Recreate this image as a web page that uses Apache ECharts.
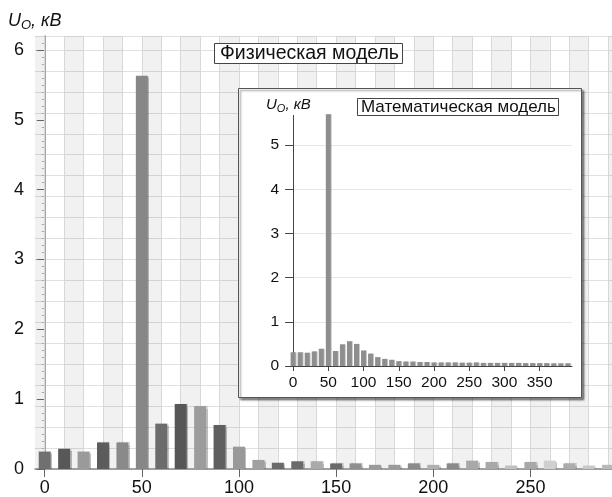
<!DOCTYPE html>
<html><head><meta charset="utf-8">
<script src="https://cdn.jsdelivr.net/npm/echarts@6/dist/echarts.min.js"></script>
<style>html,body{margin:0;padding:0;background:#fff}#c{width:612px;height:497px}</style>
</head><body><div id="c"></div>
<script>
// ---- data ----
const mainFreq = [0,10,20,30,40,50,60,70,80,90,100,110,120,130,140,150,160,170,180,190,200,210,220,230,240,250,260,270,280,290];
const mainValues = [0.25,0.29,0.25,0.38,0.38,5.63,0.65,0.93,0.90,0.63,0.32,0.13,0.09,0.11,0.11,0.08,0.08,0.06,0.06,0.08,0.06,0.08,0.12,0.10,0.05,0.10,0.12,0.08,0.05,0.06];
const insetFreq = [0,10,20,30,40,50,60,70,80,90,100,110,120,130,140,150,160,170,180,190,200,210,220,230,240,250,260,270,280,290,300,310,320,330,340,350,360,370,380,390];
const insetValues = [0.31,0.31,0.30,0.33,0.39,5.70,0.34,0.49,0.56,0.50,0.35,0.28,0.20,0.16,0.14,0.11,0.10,0.10,0.09,0.09,0.08,0.08,0.08,0.08,0.075,0.075,0.08,0.07,0.07,0.07,0.07,0.07,0.07,0.065,0.065,0.065,0.065,0.06,0.06,0.06];
const mainXTicks = [0,50,100,150,200,250];
const mainYTicks = [0,1,2,3,4,5,6];
const insetXTicks = [0,50,100,150,200,250,300,350];
const insetYTicks = [0,1,2,3,4,5];
const mainTitle = 'Физическая модель';
const insetTitle = 'Математическая модель';

// ---- styles ----
const mainColors = ['#707070','#585858','#9a9a9a','#5c5c5c','#8a8a8a','#878787','#6c6c6c','#575757','#9c9c9c','#5f5f5f','#999999','#a0a0a0','#6a6a6a','#6a6a6a','#aaaaaa','#6a6a6a','#8f8f8f','#9a9a9a','#9a9a9a','#8a8a8a','#b0b0b0','#8a8a8a','#a8a8a8','#a8a8a8','#c0c0c0','#a8a8a8','#d0d0d0','#acacac','#c8c8c8','#b8b8b8'];
const FONT = '"Liberation Sans", Arial, sans-serif';
const X_MIN = -5, X_MAX = 292, Y_MAX = 6.2;
const bandStep = 10;

const bands = [];
bands.push([{xAxis: X_MIN}, {xAxis: 0}]);
for (let s = 10; s < X_MAX; s += 2 * bandStep) bands.push([{xAxis: s}, {xAxis: Math.min(s + bandStep, X_MAX)}]);
const vlines = [];
for (let s = 0; s < X_MAX; s += bandStep) vlines.push({xAxis: s});

const axisTitleRich = (big, small) => ({
  i: {fontSize: big, fontStyle: 'italic', fontWeight: 'normal', fontFamily: FONT, color: '#111'},
  s: {fontSize: small, fontStyle: 'italic', fontWeight: 'normal', fontFamily: FONT, color: '#111', padding: [Math.round(big*0.55), 0, 0, 0]}
});

const chart = echarts.init(document.getElementById('c'));
chart.setOption({
  animation: false,
  backgroundColor: '#fff',
  textStyle: {fontFamily: FONT},
  grid: [
    {left: 35, right: 0, top: 36, bottom: 28},
    {left: 291, right: 40, top: 101, bottom: 131}
  ],
  title: [
    {text: '{i|U}{s|O}{i|, кВ}', left: 6, top: 7, padding: 2, textStyle: {fontWeight: 'normal', rich: axisTitleRich(18, 13)}},
    {text: mainTitle, left: 214, top: 43, padding: [1, 4, 0, 6], backgroundColor: '#fff', borderColor: '#444', borderWidth: 1,
     textStyle: {fontSize: 19.5, fontWeight: 'normal', color: '#111', fontFamily: FONT}, z: 20},
    {text: '{i|U}{s|O}{i|, кВ}', left: 265, top: 94, padding: [1, 3, 1, 1], backgroundColor: '#fff', textStyle: {fontWeight: 'normal', rich: axisTitleRich(15, 11)}, z: 30},
    {text: insetTitle, left: 357, top: 98, padding: [1, 3, 0, 4], backgroundColor: '#fff', borderColor: '#444', borderWidth: 1,
     textStyle: {fontSize: 17, fontWeight: 'normal', color: '#111', fontFamily: FONT}, z: 30}
  ],
  graphic: [{
    type: 'rect', z: 8, silent: true,
    shape: {x: 238.5, y: 88.5, width: 343, height: 309},
    style: {fill: '#fff', stroke: '#555', lineWidth: 1, shadowColor: 'rgba(0,0,0,0.45)', shadowOffsetX: 2, shadowOffsetY: 2, shadowBlur: 2}
  }],
  xAxis: [
    {type: 'value', gridIndex: 0, min: X_MIN, max: X_MAX,
     axisLine: {show: true, lineStyle: {color: '#888', width: 1.5}},
     axisTick: {show: true, customValues: mainXTicks, length: 8, lineStyle: {color: '#666'}},
     axisLabel: {customValues: mainXTicks, fontSize: 18, color: '#111', margin: 10, fontFamily: FONT},
     splitLine: {show: false}},
    {type: 'value', gridIndex: 1, min: -3, max: 396, z: 10,
     axisLine: {show: true, lineStyle: {color: '#444'}},
     axisTick: {show: true, customValues: insetXTicks, length: 5, lineStyle: {color: '#444'}},
     axisLabel: {customValues: insetXTicks, fontSize: 15.5, color: '#111', margin: 9, fontFamily: FONT},
     splitLine: {show: false}}
  ],
  yAxis: [
    {type: 'value', gridIndex: 0, min: 0, max: Y_MAX, interval: 1,
     axisLine: {show: true, lineStyle: {color: '#888', width: 1.5}},
     axisTick: {show: true, customValues: mainYTicks, length: 8, lineStyle: {color: '#666'}},
     minorTick: {show: true, splitNumber: 10, length: 3, lineStyle: {color: '#aaa'}},
     axisLabel: {customValues: mainYTicks, fontSize: 18, color: '#111', margin: 11, fontFamily: FONT},
     splitLine: {show: false}},
    {type: 'value', gridIndex: 0, min: 0, max: Y_MAX, interval: 0.3, show: true,
     axisLine: {show: false}, axisTick: {show: false}, axisLabel: {show: false},
     splitLine: {show: true, lineStyle: {color: '#e0e0e0', width: 1}}},
    {type: 'value', gridIndex: 1, min: 0, max: 6, interval: 1, z: 10,
     axisLine: {show: true, lineStyle: {color: '#444'}},
     axisTick: {show: true, customValues: insetYTicks, length: 8, lineStyle: {color: '#444'}},
     axisLabel: {customValues: insetYTicks, fontSize: 15.5, color: '#111', margin: 12, fontFamily: FONT},
     splitLine: {show: true, lineStyle: {color: '#e6e6e6'}}}
  ],
  series: [
    {type: 'line', xAxisIndex: 0, yAxisIndex: 0, data: [], z: 1, silent: true,
     markArea: {silent: true, z: 0, itemStyle: {color: 'rgba(0,0,0,0.055)'}, data: bands},
     markLine: {silent: true, z: 1, symbol: 'none', label: {show: false}, lineStyle: {color: '#d8d8d8', type: 'solid', width: 1}, data: vlines}},
    {type: 'bar', xAxisIndex: 0, yAxisIndex: 0, barWidth: 12, z: 3,
     itemStyle: {shadowColor: 'rgba(0,0,0,0.25)', shadowOffsetX: 1.5, shadowOffsetY: 0, shadowBlur: 1},
     data: mainFreq.map((f, i) => ({value: [f, mainValues[i]], itemStyle: {color: mainColors[i]}}))},
    {type: 'bar', xAxisIndex: 1, yAxisIndex: 2, barWidth: 5, z: 11,
     itemStyle: {color: '#8e8e8e', shadowColor: 'rgba(0,0,0,0.2)', shadowOffsetX: 1, shadowBlur: 0},
     data: insetFreq.map((f, i) => [f, insetValues[i]])}
  ]
});
</script>
</body></html>
